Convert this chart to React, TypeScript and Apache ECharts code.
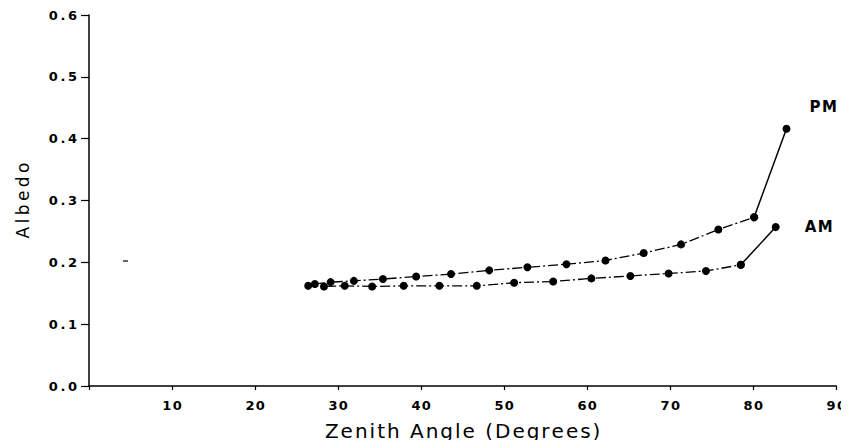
import React, { useEffect, useRef } from "react";
import * as echarts from "echarts";

const xTicks = [0, 10, 20, 30, 40, 50, 60, 70, 80, 90];
const yTicks = [0.0, 0.1, 0.2, 0.3, 0.4, 0.5, 0.6];

const amAngle = [26.4, 28.3, 30.8, 34.1, 37.9, 42.2, 46.7, 51.2, 55.9, 60.5, 65.2, 69.8, 74.3, 78.5, 82.7];
const amAlbedo = [0.162, 0.161, 0.162, 0.161, 0.162, 0.162, 0.162, 0.167, 0.169, 0.174, 0.178, 0.182, 0.186, 0.196, 0.257];

const pmAngle = [27.2, 29.1, 31.9, 35.4, 39.4, 43.6, 48.2, 52.8, 57.5, 62.2, 66.8, 71.3, 75.8, 80.1, 84.0];
const pmAlbedo = [0.165, 0.168, 0.170, 0.173, 0.177, 0.181, 0.187, 0.192, 0.197, 0.203, 0.215, 0.229, 0.253, 0.273, 0.416];

const seriesNames = ["AM", "PM"];
const xTitle = "Zenith Angle (Degrees)";
const yTitle = "Albedo";

const FONT = "DejaVu Sans";

function spaced(s: string, sep: string) {
  return s.split("").join(sep);
}

function pairs(xs: number[], ys: number[]) {
  return xs.map((x, i) => [x, ys[i]]);
}

function buildSeries(name: string, xs: number[], ys: number[], labelOffset: number[]) {
  const all = pairs(xs, ys);
  const n = all.length;
  const dashedPart = all.slice(0, n - 1);
  const solidPart = all.slice(n - 2);
  return [
    {
      name: name,
      type: "line",
      data: dashedPart,
      symbol: "circle",
      symbolSize: 8,
      itemStyle: { color: "#000" },
      lineStyle: { color: "#000", width: 1.3, type: [10, 3, 2, 3] },
      z: 3,
    },
    {
      name: name + "-end",
      type: "line",
      data: solidPart.map((p, i) =>
        i === solidPart.length - 1
          ? {
              value: p,
              label: {
                show: true,
                formatter: spaced(name, "\u200a"),
                position: "right",
                offset: labelOffset,
                color: "#000",
                fontFamily: FONT,
                fontSize: 15,
                fontWeight: "bold",
              },
            }
          : { value: p }
      ),
      symbol: "circle",
      symbolSize: 8,
      itemStyle: { color: "#000" },
      lineStyle: { color: "#000", width: 1.5, type: "solid" },
      z: 3,
    },
  ];
}

export default function App() {
  const ref = useRef<HTMLDivElement>(null);
  useEffect(() => {
    if (!ref.current) return;
    const chart = echarts.init(ref.current, undefined, { renderer: "svg" });
    chart.setOption({
      animation: false,
      backgroundColor: "#fff",
      grid: { left: 89, right: 12, top: 15, bottom: 62, containLabel: false },
      xAxis: {
        type: "value",
        min: xTicks[0],
        max: xTicks[xTicks.length - 1],
        interval: 10,
        name: spaced(xTitle, "\u200a"),
        nameLocation: "middle",
        nameGap: 35,
        nameTextStyle: { fontFamily: FONT, fontSize: 20, color: "#000" },
        axisLine: { show: true, lineStyle: { color: "#000", width: 1.5 } },
        axisTick: { show: true, inside: false, length: 4, lineStyle: { color: "#000", width: 1.2 } },
        axisLabel: {
          color: "#000",
          fontFamily: FONT,
          fontSize: 13,
          fontWeight: "bold",
          margin: 13,
          formatter: (v: number) => (v === 0 ? "" : spaced(String(v), "\u200a")),
        },
        splitLine: { show: false },
      },
      yAxis: {
        type: "value",
        min: yTicks[0],
        max: yTicks[yTicks.length - 1],
        interval: 0.1,
        name: spaced(yTitle, "\u2009"),
        nameLocation: "middle",
        nameGap: 58,
        nameRotate: 90,
        nameTextStyle: { fontFamily: FONT, fontSize: 17, color: "#000" },
        axisLine: { show: true, lineStyle: { color: "#000", width: 1.5 } },
        axisTick: { show: true, inside: false, length: 8, lineStyle: { color: "#000", width: 1.2 } },
        axisLabel: {
          color: "#000",
          fontFamily: FONT,
          fontSize: 13,
          fontWeight: "bold",
          margin: 12,
          formatter: (v: number) => spaced(v.toFixed(1), "\u2009"),
        },
        splitLine: { show: false },
      },
      series: [
        ...buildSeries(seriesNames[0], amAngle, amAlbedo, [20, 0]),
        ...buildSeries(seriesNames[1], pmAngle, pmAlbedo, [14, -22]),
      ],
      graphic: [
        { type: "line", shape: { x1: 123, y1: 261, x2: 128, y2: 261 }, style: { stroke: "#000", lineWidth: 1.2 } },
      ],
    });
    return () => chart.dispose();
  }, []);
  return <div ref={ref} style={{ width: 849, height: 448, margin: -8 }} />;
}
